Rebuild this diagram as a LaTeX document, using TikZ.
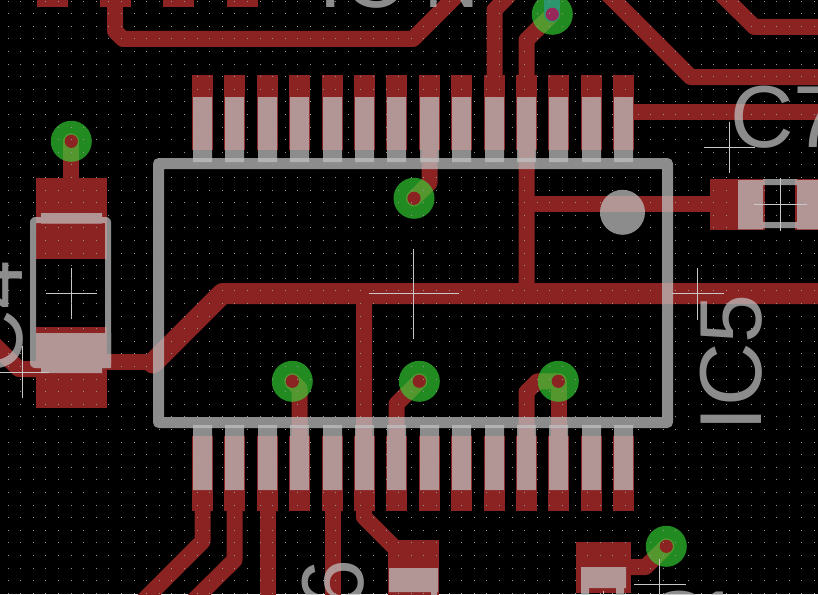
\documentclass[tikz,border=0pt]{standalone}
\usepackage{fontspec}
\setmainfont{Liberation Sans}
\definecolor{cu}{RGB}{139,35,35}
\definecolor{viag}{RGB}{53,217,53}
\definecolor{silk}{RGB}{193,193,193}
\definecolor{dotc}{RGB}{150,150,150}
\definecolor{crossc}{RGB}{200,200,200}
\definecolor{teal2}{RGB}{44,150,110}
\definecolor{hole2}{RGB}{150,40,90}
\tikzset{
  trace/.style={draw=cu,line width=16pt,line cap=round,line join=round},
  trunk/.style={draw=cu,line width=21pt,line cap=round,line join=round},
  padfill/.style={fill=cu},
  silkline/.style={draw=silk,line join=round},
  silktext/.style={text=silk,inner sep=0pt,outer sep=0pt,font=\fontsize{88}{88}\selectfont},
  crossline/.style={draw=crossc,line width=1pt},
}
\begin{document}
\begin{tikzpicture}[x=1pt,y=-1pt]
\useasboundingbox (0,0) rectangle (818,594);
\fill[black] (0,0) rectangle (818,594);
\clip (0,0) rectangle (818,594);
% copper pads
\foreach \x in {202.5,234.5,267.5,299.5,332.5,364.5,396.5,429.5,461.5,494.5,526.5,558.5,591.5,623.5}{
  \fill[padfill] (\x-10.5,75) rectangle (\x+10.5,150);
  \fill[padfill] (\x-10.5,436) rectangle (\x+10.5,511);
}
\foreach \x in {37,100,163,227}{\fill[padfill] (\x,0) rectangle (\x+31,7);}
\fill[padfill] (36,178) rectangle (107,259);
\fill[padfill] (36,327) rectangle (107,408);
\fill[padfill] (710,179) rectangle (765,230);
\fill[padfill] (795,179) rectangle (830,230);
\fill[padfill] (388,540) rectangle (439,600);
\fill[padfill] (576,542) rectangle (631,593);
% copper traces
\draw[trace] (115,-10) -- (115,31) -- (123,39) -- (413,39) -- (462,-10);
\draw[trace] (494.5,90) -- (494.5,10) -- (514,-10);
\draw[trace] (526.5,293) -- (526.5,40) -- (552.3,14.3);
\draw[trace] (593.7,-20) -- (690.7,77) -- (840,77);
\draw[trace] (717,-10) -- (754.5,27) -- (840,27);
\draw[trace] (623,112) -- (840,112);
\draw[trace] (526.5,204) -- (720,204);
\draw[trunk] (840,293.5) -- (222.5,293.5) -- (153,363);
\draw[trace] (100,362) -- (153,362);
\draw[trace] (71.3,141.3) -- (71.3,190);
\draw[trace] (40,369) -- (18.7,369) -- (-12,338);
\draw[trace] (364,293) -- (364,517) -- (405,558);
\draw[trace] (429.5,90) -- (429.5,183) -- (414,198.3);
\draw[trace] (202.5,500) -- (202.5,541.5) -- (130,614);
\draw[trace] (234.5,500) -- (234.5,560) -- (180,614);
\draw[trace] (267.5,500) -- (267.5,610);
\draw[trace] (299.5,490) -- (299.5,388.5) -- (292.3,381.3);
\draw[trace] (332.5,500) -- (332.5,610);
\draw[trace] (396.5,490) -- (396.5,404) -- (419.3,381.3);
\draw[trace] (526.5,490) -- (526.5,392) -- (537.5,381.3) -- (558.3,381.3);
\draw[trace] (558.5,490) -- (558.5,381.3);
\draw[trace] (610,567) -- (645.5,567) -- (666.3,546.3);
% vias
\foreach \p in {(71.3,141.3),(552.3,14.3),(414,198.3),(292.3,381.3),(419.3,381.3),(558.3,381.3),(666.3,546.3)}{
  \fill[viag,opacity=.64] \p circle (20.5);
}
\draw[draw=teal2,line width=16pt,line cap=round] (552.3,14.3) -- (552.3,-20);
\foreach \p in {(71.3,141.3),(414,198.3),(292.3,381.3),(419.3,381.3),(558.3,381.3),(666.3,546.3)}{
  \fill[cu] \p circle (6.6);
}
\fill[hole2] (552.3,14.3) circle (6.6);
% pad overlays
\begin{scope}[transparency group,opacity=.73]
\foreach \x in {202.5,234.5,267.5,299.5,332.5,364.5,396.5,429.5,461.5,494.5,526.5,558.5,591.5,623.5}{
  \fill[silk] (\x-9.5,97) rectangle (\x+9.5,162);
  \fill[silk] (\x-9.5,425) rectangle (\x+9.5,490);
}
\end{scope}
% silkscreen
\begin{scope}[transparency group,opacity=.73]
\draw[silkline,line width=11pt] (158.5,163.5) rectangle (667.5,422.5);
\fill[silk] (622.5,212.3) circle (22.5);
% left part
\draw[silkline,line width=6pt,rounded corners=2pt] (33,220) rectangle (108,365);
\fill[silk] (41,213) rectangle (102,223.5);
\fill[silk] (36,333) rectangle (111,368);
\fill[silk] (41,368) rectangle (102,373);
% right part
\fill[silk] (738,180) rectangle (763,229.3);
\fill[silk] (797,180) rectangle (830,229.3);
\fill[silk] (763,179) rectangle (797,185);
\fill[silk] (763,222) rectangle (797,228);
% lower parts
\fill[silk] (389,568) rectangle (438,592);
\fill[silk] (431,592) rectangle (437,600);
\fill[silk] (581,567) rectangle (626,588);
\fill[silk] (581,588) rectangle (589,600);
\fill[silk] (616,588) rectangle (624,600);
% labels
\node[silktext,anchor=base west] (lc7) at (730,147) {C7};
\node[silktext,anchor=base west,rotate=90] (lic5) at (761,431) {IC5};
\node[silktext,anchor=base west,rotate=90] (lc4) at (22.5,373) {C4};
\node[silktext,anchor=base west,rotate=90] (lc6) at (363,672) {C6};
\node[silktext,anchor=base west] (lic4) at (318,8) {IC};
\node[silktext,anchor=base west,xscale=.86] (lic4b) at (424,8) {N};
\node[silktext,anchor=base west] (lc1) at (645,652) {C\kern-15.5pt 1};
\end{scope}
% origin crosses
\foreach \cx/\cy/\r in {71.5/293.5/25.5,413.5/293.5/45,729.5/147/25.5,697.5/293.5/26,22.5/372/26,659.5/584.5/26,780.5/204.5/26.5,603.5/616.5/26}{
  \draw[crossline] (\cx-\r,\cy) -- (\cx+\r,\cy) (\cx,\cy-\r) -- (\cx,\cy+\r);
}
% grid dots, aligned to whole pixels
\foreach \i in {0,...,64}{
  \foreach \j in {0,...,47}{
    \fill[dotc] ({int(8+12.6*\i)},{int(1+12.6*\j)}) rectangle +(1,1);
  }
}
\end{tikzpicture}
\end{document}
